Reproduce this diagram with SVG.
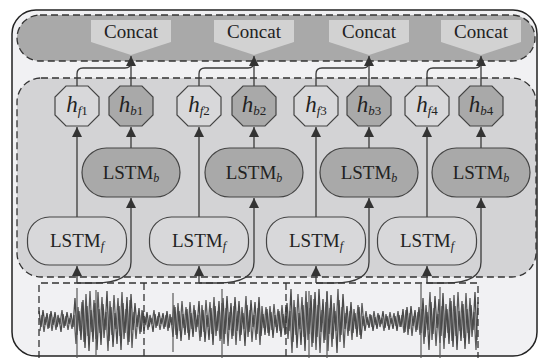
<svg xmlns="http://www.w3.org/2000/svg" width="539" height="358" viewBox="0 0 539 358">
<defs>
<style>
.txt{font-family:"Liberation Serif","Times New Roman",serif;fill:#222}
.dash{fill:none;stroke:#333;stroke-width:1.3;stroke-dasharray:7 4}
.conn{fill:none;stroke:#3a3a3a;stroke-width:1.3}
.oct{stroke:#444;stroke-width:1.2}
.pill{stroke:#444;stroke-width:1.2}
.light{fill:#d8d8da}
.dark{fill:#a9a9a9}
.wave{fill:none;stroke:#4a4a4a;stroke-width:1.3;stroke-linejoin:miter}
.spike{stroke:#5a5a5a;stroke-width:1.2}
</style>
<marker id="ah" markerUnits="userSpaceOnUse" markerWidth="10" markerHeight="10" viewBox="0 0 10 10" refX="10" refY="5" orient="auto">
<path d="M0,0 L10,5 L0,10 z" fill="#333"/>
</marker>
</defs>
<rect x="12" y="10" width="525" height="346" rx="24" fill="#f1f1f3" stroke="#222" stroke-width="1.5"/>
<rect class="dash" x="17" y="15" width="518" height="46" rx="23" style="fill:#a9a9a9"/>
<rect class="dash" x="17" y="78" width="519" height="199" rx="24" style="fill:#d3d3d5"/>

<g id="waveform">
<polyline id="wv" class="wave" points="39,311 41,327 43,310 45,325 47,313 49,328 51,311 53,325 55,312 57,327 59,318 61,332 63,314 65,326 67,312 69,324 71,313 73,327 75,298 77,335 79,311 81,340 83,300 85,348 87,306 89,351 91,310 93,342 95,303 97,350 99,309 101,345 103,304 105,330 107,291 109,341 111,307 113,347 115,313 117,344 119,306 121,350 123,303 125,333 127,297 129,342 131,294 133,330 135,303 137,327 139,308 141,332 143,311 145,325 147,312 149,327 151,318 153,332 155,314 157,326 159,312 161,324 163,313 165,327 167,311 169,328 171,317 173,337 175,307 177,339 179,311 181,341 183,314 185,335 187,309 189,340 191,313 193,337 195,310 197,327 199,301 201,337 203,310 205,342 207,315 209,340 211,308 213,345 215,306 217,331 219,301 221,339 223,298 225,334 227,296 229,330 231,303 233,336 235,297 237,331 239,301 241,335 243,313 245,346 247,305 249,332 251,300 253,327 255,302 257,334 259,297 261,336 263,314 265,335 267,309 269,336 271,312 273,338 275,315 277,333 279,311 281,337 283,314 285,335 287,303 289,331 291,289 293,342 295,307 297,348 299,313 301,345 303,305 305,351 307,302 309,334 311,295 313,343 315,292 317,337 319,289 321,332 323,299 325,340 327,291 329,334 331,295 333,339 335,311 337,353 339,300 341,335 343,294 345,329 347,306 349,331 351,302 353,333 355,313 357,337 359,307 361,339 363,316 365,331 367,317 369,328 371,315 373,331 375,317 377,329 379,315 381,324 383,311 385,328 387,316 389,330 391,318 393,329 395,316 397,331 399,315 401,327 403,309 405,332 407,307 409,329 411,306 413,326 415,310 417,330 419,307 421,333 423,298 425,337 427,312 429,350 431,302 433,334 435,296 437,328 439,299 441,336 443,293 445,338 447,309 449,344 451,301 453,347 455,306 457,350 459,311 461,341 463,304 465,349 467,309 469,344 471,305 473,330 475,292 477,340"/>
<use href="#wv" transform="translate(1,642) scale(1,-1) translate(0,0)" opacity="0.9"/>
<path class="spike" d="M77,288V358 M96,290V356 M173,293V352 M222,289V358 M309,291V358 M327,292V358 M421,284V358 M440,287V358"/>
<path class="dash" d="M39,358V283H478V358 M144,283V358 M286,283V358"/>
</g>

<g id="connectors">
<path class="conn" d="M77,86V74Q77,68 83,68H125Q131,68 131,62"/>
<path class="conn" d="M131,86V56" marker-end="url(#ah)"/>
<path class="conn" d="M199,86V74Q199,68 205,68H248Q254,68 254,62"/>
<path class="conn" d="M254,86V56" marker-end="url(#ah)"/>
<path class="conn" d="M316,86V74Q316,68 322,68H363Q369,68 369,62"/>
<path class="conn" d="M369,86V56" marker-end="url(#ah)"/>
<path class="conn" d="M427,86V74Q427,68 433,68H475Q481,68 481,62"/>
<path class="conn" d="M481,86V56" marker-end="url(#ah)"/>

<path class="conn" d="M77,217V127" marker-end="url(#ah)"/>
<path class="conn" d="M131,148V127" marker-end="url(#ah)"/>
<path class="conn" d="M199,217V127" marker-end="url(#ah)"/>
<path class="conn" d="M254,148V127" marker-end="url(#ah)"/>
<path class="conn" d="M316,217V127" marker-end="url(#ah)"/>
<path class="conn" d="M369,148V127" marker-end="url(#ah)"/>
<path class="conn" d="M427,217V127" marker-end="url(#ah)"/>
<path class="conn" d="M481,148V127" marker-end="url(#ah)"/>

<path class="conn" d="M77,283V266" marker-end="url(#ah)"/>
<path class="conn" d="M77,283H95Q131,283 131,262V198" marker-end="url(#ah)"/>
<path class="conn" d="M199,283V266" marker-end="url(#ah)"/>
<path class="conn" d="M199,283H218Q254,283 254,262V198" marker-end="url(#ah)"/>
<path class="conn" d="M316,283V266" marker-end="url(#ah)"/>
<path class="conn" d="M316,283H334Q369,283 369,262V198" marker-end="url(#ah)"/>
<path class="conn" d="M427,283V266" marker-end="url(#ah)"/>
<path class="conn" d="M427,283H446Q481,283 481,262V198" marker-end="url(#ah)"/>
</g>

<g id="concat1" transform="translate(131,0)"><polygon points="-40,20 40,20 40,42 0,55 -40,42" fill="#d2d2d2"/><text class="txt" x="0" y="38" font-size="19" text-anchor="middle">Concat</text></g>
<g id="concat2" transform="translate(254,0)"><polygon points="-40,20 40,20 40,42 0,55 -40,42" fill="#d2d2d2"/><text class="txt" x="0" y="38" font-size="19" text-anchor="middle">Concat</text></g>
<g id="concat3" transform="translate(369,0)"><polygon points="-40,20 40,20 40,42 0,55 -40,42" fill="#d2d2d2"/><text class="txt" x="0" y="38" font-size="19" text-anchor="middle">Concat</text></g>
<g id="concat4" transform="translate(481,0)"><polygon points="-40,20 40,20 40,42 0,55 -40,42" fill="#d2d2d2"/><text class="txt" x="0" y="38" font-size="19" text-anchor="middle">Concat</text></g>

<g id="hf1" transform="translate(77,106)"><polygon class="oct light" points="-11,-20 11,-20 22,-9 22,9 11,20 -11,20 -22,9 -22,-9"/><text class="txt" y="6" font-size="23" text-anchor="middle"><tspan font-style="italic">h</tspan><tspan font-size="13" dy="3" font-style="italic">f</tspan><tspan font-size="13">1</tspan></text></g>
<g id="hb1" transform="translate(131,106)"><polygon class="oct dark" points="-11,-20 11,-20 22,-9 22,9 11,20 -11,20 -22,9 -22,-9"/><text class="txt" y="6" font-size="23" text-anchor="middle"><tspan font-style="italic">h</tspan><tspan font-size="13" dy="3" font-style="italic">b</tspan><tspan font-size="13">1</tspan></text></g>
<g id="hf2" transform="translate(199,106)"><polygon class="oct light" points="-11,-20 11,-20 22,-9 22,9 11,20 -11,20 -22,9 -22,-9"/><text class="txt" y="6" font-size="23" text-anchor="middle"><tspan font-style="italic">h</tspan><tspan font-size="13" dy="3" font-style="italic">f</tspan><tspan font-size="13">2</tspan></text></g>
<g id="hb2" transform="translate(254,106)"><polygon class="oct dark" points="-11,-20 11,-20 22,-9 22,9 11,20 -11,20 -22,9 -22,-9"/><text class="txt" y="6" font-size="23" text-anchor="middle"><tspan font-style="italic">h</tspan><tspan font-size="13" dy="3" font-style="italic">b</tspan><tspan font-size="13">2</tspan></text></g>
<g id="hf3" transform="translate(316,106)"><polygon class="oct light" points="-11,-20 11,-20 22,-9 22,9 11,20 -11,20 -22,9 -22,-9"/><text class="txt" y="6" font-size="23" text-anchor="middle"><tspan font-style="italic">h</tspan><tspan font-size="13" dy="3" font-style="italic">f</tspan><tspan font-size="13">3</tspan></text></g>
<g id="hb3" transform="translate(369,106)"><polygon class="oct dark" points="-11,-20 11,-20 22,-9 22,9 11,20 -11,20 -22,9 -22,-9"/><text class="txt" y="6" font-size="23" text-anchor="middle"><tspan font-style="italic">h</tspan><tspan font-size="13" dy="3" font-style="italic">b</tspan><tspan font-size="13">3</tspan></text></g>
<g id="hf4" transform="translate(427,106)"><polygon class="oct light" points="-11,-20 11,-20 22,-9 22,9 11,20 -11,20 -22,9 -22,-9"/><text class="txt" y="6" font-size="23" text-anchor="middle"><tspan font-style="italic">h</tspan><tspan font-size="13" dy="3" font-style="italic">f</tspan><tspan font-size="13">4</tspan></text></g>
<g id="hb4" transform="translate(481,106)"><polygon class="oct dark" points="-11,-20 11,-20 22,-9 22,9 11,20 -11,20 -22,9 -22,-9"/><text class="txt" y="6" font-size="23" text-anchor="middle"><tspan font-style="italic">h</tspan><tspan font-size="13" dy="3" font-style="italic">b</tspan><tspan font-size="13">4</tspan></text></g>

<g id="lstmb1" transform="translate(131,172.5)"><rect class="pill dark" x="-49" y="-24.5" width="98" height="49" rx="24.5"/><text class="txt" y="6" font-size="19" text-anchor="middle">LSTM<tspan font-size="12" dy="3" font-style="italic">b</tspan></text></g>
<g id="lstmb2" transform="translate(254,172.5)"><rect class="pill dark" x="-49" y="-24.5" width="98" height="49" rx="24.5"/><text class="txt" y="6" font-size="19" text-anchor="middle">LSTM<tspan font-size="12" dy="3" font-style="italic">b</tspan></text></g>
<g id="lstmb3" transform="translate(369,172.5)"><rect class="pill dark" x="-49" y="-24.5" width="98" height="49" rx="24.5"/><text class="txt" y="6" font-size="19" text-anchor="middle">LSTM<tspan font-size="12" dy="3" font-style="italic">b</tspan></text></g>
<g id="lstmb4" transform="translate(481,172.5)"><rect class="pill dark" x="-49" y="-24.5" width="98" height="49" rx="24.5"/><text class="txt" y="6" font-size="19" text-anchor="middle">LSTM<tspan font-size="12" dy="3" font-style="italic">b</tspan></text></g>

<g id="lstmf1" transform="translate(77,241)"><rect class="pill light" x="-49.5" y="-24" width="99" height="48" rx="22"/><text class="txt" y="6" font-size="19" text-anchor="middle">LSTM<tspan font-size="12" dy="3" font-style="italic">f</tspan></text></g>
<g id="lstmf2" transform="translate(199,241)"><rect class="pill light" x="-49.5" y="-24" width="99" height="48" rx="22"/><text class="txt" y="6" font-size="19" text-anchor="middle">LSTM<tspan font-size="12" dy="3" font-style="italic">f</tspan></text></g>
<g id="lstmf3" transform="translate(316,241)"><rect class="pill light" x="-49.5" y="-24" width="99" height="48" rx="22"/><text class="txt" y="6" font-size="19" text-anchor="middle">LSTM<tspan font-size="12" dy="3" font-style="italic">f</tspan></text></g>
<g id="lstmf4" transform="translate(427,241)"><rect class="pill light" x="-49.5" y="-24" width="99" height="48" rx="22"/><text class="txt" y="6" font-size="19" text-anchor="middle">LSTM<tspan font-size="12" dy="3" font-style="italic">f</tspan></text></g>
</svg>
